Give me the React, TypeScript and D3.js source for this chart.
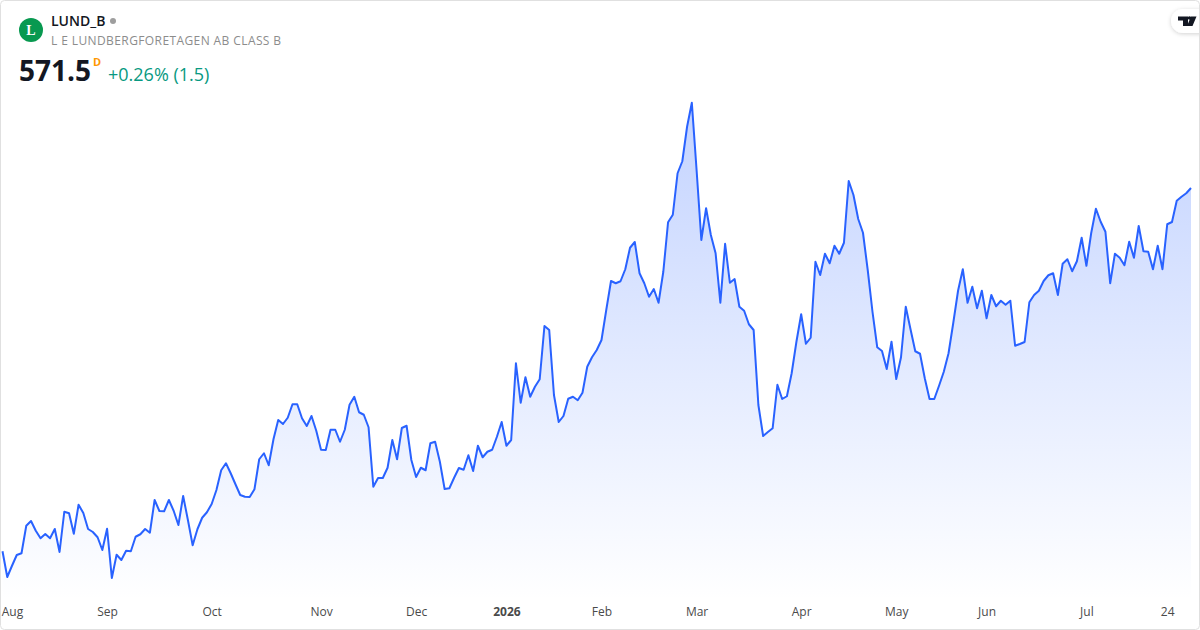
import React, { useRef, useEffect } from "react";
import { select, scaleLinear, line, area, axisBottom } from "d3";

const width = 1200;
const height = 630;

// daily closes
const closes: number[] = [
  426.2, 415.9, 420.4, 424.7, 425.4, 436.4, 438.3, 434.4, 431.4, 433.1,
  431.4, 435.1, 425.9, 442.0, 441.4, 433.2, 444.8, 441.5, 435.1, 433.9,
  431.8, 426.7, 435.2, 415.5, 424.8, 422.7, 426.4, 426.2, 432.0, 433.0,
  435.1, 433.6, 446.7, 442.3, 442.2, 446.7, 442.4, 436.7, 448.3, 438.7,
  428.6, 435.0, 439.6, 441.8, 445.1, 450.7, 458.6, 461.4, 457.4, 453.0,
  448.7, 448.0, 447.9, 451.0, 463.0, 465.4, 460.6, 471.0, 478.7, 477.1,
  479.6, 485.0, 485.0, 479.4, 476.3, 480.3, 474.4, 466.8, 466.7, 474.8,
  474.8, 470.0, 474.8, 484.8, 488.0, 481.8, 480.8, 475.8, 452.0, 455.5,
  455.5, 459.6, 470.7, 463.0, 475.5, 476.4, 462.7, 455.9, 459.6, 458.6,
  469.4, 470.0, 462.0, 451.1, 451.4, 455.6, 459.5, 458.8, 464.6, 458.3,
  468.4, 463.8, 466.0, 466.8, 472.0, 477.9, 468.4, 470.7, 501.4, 485.6,
  495.8, 488.0, 492.0, 495.0, 516.3, 514.7, 488.7, 477.9, 480.3, 487.2,
  488.0, 486.6, 489.6, 500.0, 503.8, 506.7, 510.7, 522.7, 534.3, 533.4,
  534.2, 539.0, 547.6, 549.9, 537.4, 533.4, 528.0, 531.1, 525.6, 538.0,
  557.8, 560.8, 577.4, 582.2, 596.0, 605.6, 578.7, 550.7, 563.4, 552.7,
  545.4, 525.6, 549.2, 533.6, 535.1, 524.0, 522.4, 517.0, 514.7, 484.7,
  472.3, 473.9, 475.4, 492.8, 487.1, 488.2, 497.4, 510.0, 521.0, 509.2,
  511.6, 542.0, 536.7, 545.2, 541.4, 548.4, 545.2, 549.6, 574.3, 568.7,
  559.1, 553.6, 538.7, 522.0, 507.8, 506.3, 499.1, 510.0, 495.1, 503.8,
  524.0, 515.0, 506.2, 505.2, 495.4, 487.1, 487.1, 492.4, 498.0, 505.4,
  517.6, 530.4, 539.0, 525.6, 532.0, 523.4, 530.4, 519.4, 528.7, 524.2,
  526.4, 524.8, 526.4, 508.4, 509.1, 509.9, 525.8, 528.7, 530.4, 534.3,
  536.6, 537.4, 528.7, 541.2, 543.0, 538.2, 542.2, 551.6, 540.4, 553.4,
  563.2, 558.0, 554.0, 533.4, 545.2, 543.6, 540.6, 550.0, 543.6, 556.3,
  546.2, 546.0, 539.0, 548.4, 539.0, 557.0, 557.9, 566.4, 568.0, 569.4,
  571.5,
];

const tickLabels = ["Aug", "Sep", "Oct", "Nov", "Dec", "2026", "Feb", "Mar", "Apr", "May", "Jun", "Jul", "24"];
const tickIndexes = [2, 22, 44, 67, 87, 106, 126, 146, 168, 188, 207, 228, 245];

const fontFamily = "'Open Sans', sans-serif";

const App: React.FC = () => {
  const axisRef = useRef<SVGGElement>(null);

  const x = scaleLinear().domain([0, closes.length - 1]).range([2.5, 1191]);
  const y = scaleLinear().domain([415.5, 605.5]).range([578, 103]);

  const l = line<number>()
    .x((_, i) => x(i))
    .y((d) => y(d));
  const a = area<number>()
    .x((_, i) => x(i))
    .y0(600)
    .y1((d) => y(d));

  useEffect(() => {
    const xAxis = axisBottom(x)
      .tickValues(tickIndexes)
      .tickSize(0)
      .tickPadding(0)
      .tickFormat((_, i) => tickLabels[i]);
    const g = select(axisRef.current!);
    g.call(xAxis as any);
    g.select(".domain").remove();
    g.selectAll("text")
      .style("font-family", fontFamily)
      .style("font-size", "12px")
      .style("fill", "#4a4a4a")
      .style("font-weight", (_, i) => (tickLabels[i] === "2026" ? 700 : 400));
  });

  return (
    <svg
      width={width}
      height={height}
      style={{ position: "absolute", left: 0, top: 0, display: "block", background: "#fff" }}
    >
      <defs>
        <linearGradient id="fade" gradientUnits="userSpaceOnUse" x1={0} y1={103} x2={0} y2={600}>
          <stop offset="0%" stopColor="#2962ff" stopOpacity={0.28} />
          <stop offset="100%" stopColor="#2962ff" stopOpacity={0} />
        </linearGradient>
        <filter id="pillShadow" x="-30%" y="-30%" width="160%" height="170%">
          <feDropShadow dx="0" dy="1" stdDeviation="2" floodColor="#000" floodOpacity="0.18" />
        </filter>
      </defs>

      <path d={a(closes)!} fill="url(#fade)" />
      <path d={l(closes)!} fill="none" stroke="#2962ff" strokeWidth={2} strokeLinejoin="round" />
      <g ref={axisRef} transform="translate(0,607)" />

      <circle cx={31} cy={30} r={12} fill="#089950" />
      <text x={31} y={35} textAnchor="middle" fontFamily="'Liberation Serif', serif" fontWeight={700} fontSize={14} fill="#fff">
        L
      </text>
      <text x={51} y={26} fontFamily={fontFamily} fontWeight={600} fontSize={14} fill="#131722">
        LUND_B
      </text>
      <circle cx={113} cy={21} r={3} fill="#9e9e9e" />
      <text x={51} y={45} fontFamily={fontFamily} fontSize={12} letterSpacing={0.4} fill="#8c8c8c">
        L E LUNDBERGFORETAGEN AB CLASS B
      </text>
      <text x={19} y={81} fontFamily={fontFamily} fontWeight={700} fontSize={28} fill="#131722">
        571.5
      </text>
      <text x={93} y={66} fontFamily={fontFamily} fontWeight={700} fontSize={11} fill="#ff9800">
        D
      </text>
      <text x={108} y={81} fontFamily={fontFamily} fontSize={18} fill="#089981">
        +0.26% (1.5)
      </text>

      <rect x={1171} y={9} width={50} height={24} rx={12} fill="#fff" filter="url(#pillShadow)" />
      <path d="M1178 16.5h10v9.5h-5v-5.5h-5z M1191 16.5h5.5l-4 9.5h-5.5z" fill="#131722" />
      <circle cx={1189.5} cy={18} r={1.8} fill="#131722" />

      <rect x={0.5} y={0.5} width={width - 1} height={height - 1} rx={4} fill="none" stroke="#e0e0e0" />
    </svg>
  );
};

export default App;
